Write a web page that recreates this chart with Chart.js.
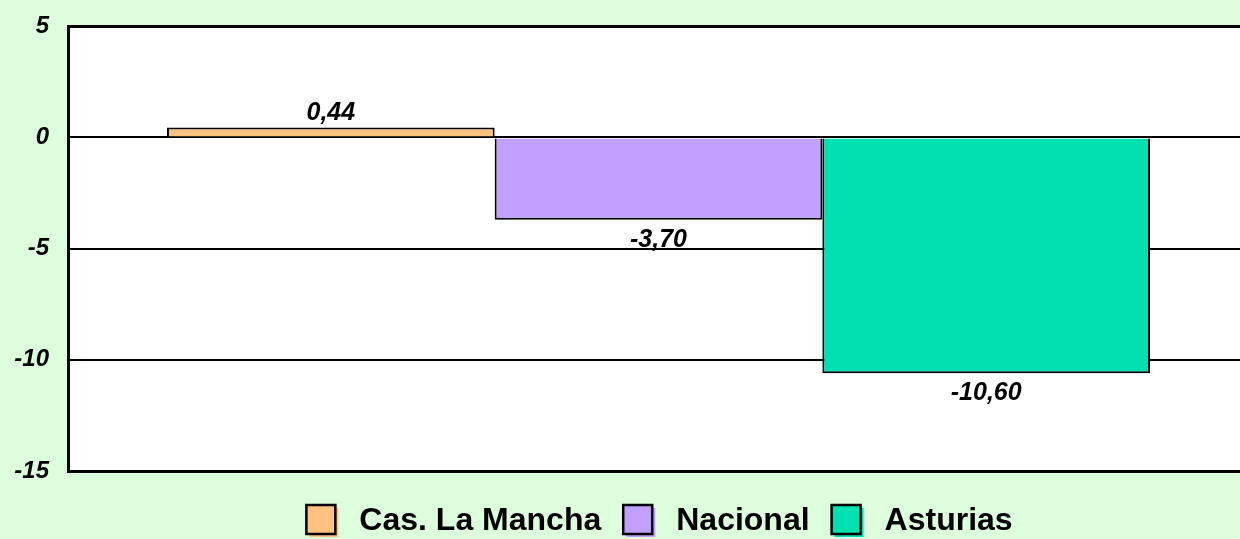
<!DOCTYPE html>
<html>
<head>
<meta charset="utf-8">
<script src="https://cdn.jsdelivr.net/npm/chart.js@4/dist/chart.umd.min.js"></script>
<style>
  html, body { margin: 0; padding: 0; overflow: hidden; background: #dcfedc; }
  #wrap { width: 1320px; height: 539px; }
</style>
</head>
<body>
<div id="wrap"><canvas id="c" width="1320" height="539"></canvas></div>
<script>
const categories = [''];
const seriesNames = ['Cas. La Mancha', 'Nacional', 'Asturias'];
const seriesValues = [[0.44], [-3.70], [-10.60]];
const seriesColors = ['#ffc080', '#c09fff', '#00e0b0'];
const yTicks = [5, 0, -5, -10, -15];

const FONT = '"Liberation Sans", Arial, sans-serif';

const datasets = seriesNames.map((name, i) => ({
  label: name,
  data: seriesValues[i],
  backgroundColor: seriesColors[i],
  borderColor: '#000000',
  borderWidth: 2,
  borderSkipped: 'start',
  barPercentage: 1.0,
  categoryPercentage: 0.8324
}));

const valueLabels = {
  id: 'valueLabels',
  afterDatasetsDraw(chart) {
    const ctx = chart.ctx;
    ctx.save();
    ctx.font = 'italic bold 25px ' + FONT;
    ctx.fillStyle = '#000';
    ctx.textAlign = 'center';
    ctx.textBaseline = 'middle';
    chart.data.datasets.forEach((ds, di) => {
      const meta = chart.getDatasetMeta(di);
      meta.data.forEach((bar, j) => {
        const v = ds.data[j];
        const txt = v.toFixed(2).replace('.', ',');
        const y = v >= 0 ? bar.y - 15 : bar.y + 20;
        ctx.fillText(txt, bar.x, y);
      });
    });
    ctx.restore();
  }
};

const customLegend = {
  id: 'customLegend',
  afterDraw(chart) {
    const ctx = chart.ctx;
    const area = chart.chartArea;
    ctx.save();
    ctx.font = 'bold 32px ' + FONT;
    const box = 29, gapText = 24, gapItem = 22;
    const items = chart.data.datasets.map(ds => ({
      label: ds.label, color: ds.backgroundColor, w: ctx.measureText(ds.label).width
    }));
    let total = 0;
    items.forEach((it, i) => { total += box + gapText + it.w + (i < items.length - 1 ? gapItem : 0); });
    let x = (area.left + area.right) / 2 + 1 - total / 2;
    const yTop = 505;
    items.forEach(it => {
      ctx.fillStyle = it.color;
      ctx.fillRect(x + 3, yTop + 3, box, box);
      ctx.fillRect(x, yTop, box, box);
      ctx.strokeStyle = '#000';
      ctx.lineWidth = 2.5;
      ctx.strokeRect(x, yTop, box, box);
      ctx.fillStyle = '#000';
      ctx.textAlign = 'left';
      ctx.textBaseline = 'middle';
      ctx.fillText(it.label, x + box + gapText, yTop + box / 2 + 2);
      x += box + gapText + it.w + gapItem;
    });
    ctx.restore();
  }
};

const plotBg = {
  id: 'plotBg',
  beforeDraw(chart) {
    const { ctx, chartArea: a } = chart;
    ctx.save();
    ctx.fillStyle = '#ffffff';
    ctx.fillRect(a.left, a.top, a.right - a.left, a.bottom - a.top);
    ctx.restore();
  }
};

new Chart(document.getElementById('c'), {
  type: 'bar',
  data: { labels: categories, datasets },
  options: {
    responsive: false,
    animation: false,
    layout: { padding: { left: 0, right: 71, top: 22, bottom: 68 } },
    plugins: { legend: { display: false }, tooltip: { enabled: false } },
    scales: {
      x: {
        display: true,
        grid: { display: false, drawTicks: false },
        border: { display: false },
        ticks: { display: false }
      },
      y: {
        min: -15, max: 5,
        afterFit(scale) { scale.width = 68; },
        afterBuildTicks(scale) { scale.ticks = yTicks.map(v => ({ value: v })); },
        grid: {
          color: '#000000',
          lineWidth: (c) => (c.tick && (c.tick.value === 5 || c.tick.value === -15)) ? 3 : 2,
          drawTicks: false
        },
        border: { display: true, color: '#000000', width: 3 },
        ticks: {
          padding: 19,
          color: '#000000',
          font: { family: FONT, size: 24, weight: 'bold', style: 'italic', lineHeight: 0.6 },
          callback: (v) => String(v)
        }
      }
    }
  },
  plugins: [plotBg, valueLabels, customLegend]
});
</script>
</body>
</html>
